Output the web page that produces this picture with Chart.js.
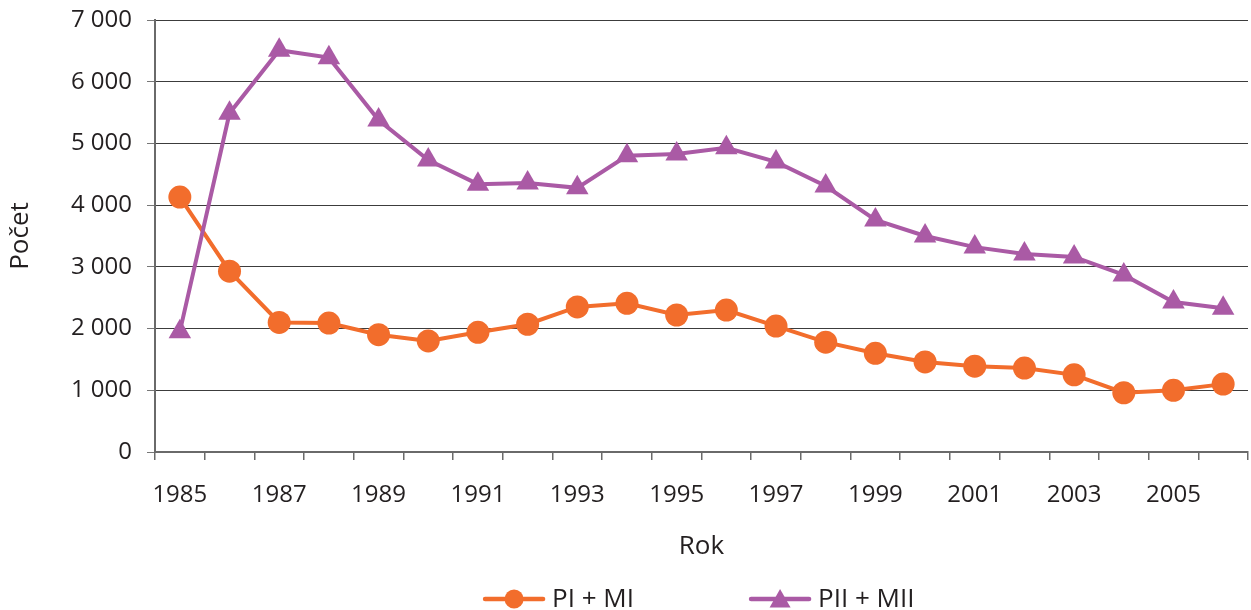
<!DOCTYPE html>
<html>
<head>
<meta charset="utf-8">
<script src="https://cdn.jsdelivr.net/npm/chart.js@4.4.0/dist/chart.umd.min.js"></script>
<style>
  html, body { margin: 0; padding: 0; overflow: hidden; background: #ffffff; width: 1251px; height: 610px; }
  #wrap { position: absolute; left: 0; top: 0; width: 1261px; height: 623px; }
</style>
</head>
<body>
<div id="wrap"><canvas id="c" width="1261" height="623"></canvas></div>
<script>
// ---- data ----
const years = ['1985','1986','1987','1988','1989','1990','1991','1992','1993','1994','1995',
               '1996','1997','1998','1999','2000','2001','2002','2003','2004','2005','2006'];
const seriesNames = ['PI + MI', 'PII + MII'];
const piMi   = [4130, 2930, 2100, 2090, 1900, 1800, 1940, 2070, 2350, 2410, 2220,
                2300, 2040, 1780, 1600, 1460, 1390, 1360, 1250, 960, 1000, 1100];
const piiMii = [1950, 5490, 6510, 6390, 5380, 4730, 4340, 4360, 4280, 4800, 4830,
                4930, 4700, 4310, 3760, 3500, 3320, 3210, 3160, 2870, 2430, 2330];
const xTickLabels = ['1985','1987','1989','1991','1993','1995','1997','1999','2001','2003','2005'];
const yTickValues = [0, 1000, 2000, 3000, 4000, 5000, 6000, 7000];
const yTickLabels = ['0', '1 000', '2 000', '3 000', '4 000', '5 000', '6 000', '7 000'];
const xTitle = 'Rok';
const yTitle = 'Počet';

// ---- style / layout constants ----
const FONT = "'Open Sans', sans-serif";
const TEXT = '#231F20';
const ORANGE = '#F26D2C';
const PURPLE = '#AA5AA5';
const LEG_FONT = 26, LEG_PAD = 10;
const TEXT0 = 552, TEXT1 = 818;      // where legend texts start
const CHART_LEFT = 155, CHART_RIGHT = 1261;

const meas = document.createElement('canvas').getContext('2d');
meas.font = LEG_FONT + 'px ' + FONT;
const tw0 = meas.measureText(seriesNames[0]).width;
const tw1 = meas.measureText(seriesNames[1]).width;
const padL = 2 * TEXT0 + tw0 + tw1 + LEG_PAD - CHART_RIGHT;
const BOX = TEXT1 - TEXT0 - tw0 - LEG_PAD - LEG_FONT / 2;

function legendSample(color, style) {
  const w = BOX + 24, h = 40;
  const cv = document.createElement('canvas');
  cv.width = w; cv.height = h;
  const g = cv.getContext('2d');
  const textStart = w / 2 + BOX / 2 + LEG_FONT / 2;
  const cy = h / 2 - 1;
  g.strokeStyle = color; g.lineWidth = 4.5; g.lineCap = 'round';
  g.beginPath(); g.moveTo(textStart - 67, cy); g.lineTo(textStart - 9, cy); g.stroke();
  const mx = textStart - 38;
  g.fillStyle = color;
  g.beginPath();
  if (style === 'circle') {
    g.arc(mx, cy, 9.5, 0, Math.PI * 2);
  } else {
    g.moveTo(mx, cy - 10); g.lineTo(mx + 10.5, cy + 8.5); g.lineTo(mx - 10.5, cy + 8.5); g.closePath();
  }
  g.fill();
  return cv;
}
const samples = [legendSample(ORANGE, 'circle'), legendSample(PURPLE, 'triangle')];

new Chart(document.getElementById('c'), {
  type: 'line',
  data: {
    labels: years,
    datasets: [
      { label: seriesNames[0], data: piMi, borderColor: ORANGE, backgroundColor: ORANGE,
        borderWidth: 4, pointStyle: 'circle', pointRadius: 11.5, pointBorderWidth: 0,
        pointBackgroundColor: ORANGE, tension: 0, order: 1 },
      { label: seriesNames[1], data: piiMii, borderColor: PURPLE, backgroundColor: PURPLE,
        borderWidth: 4, pointStyle: 'triangle', pointRadius: 13, pointBorderWidth: 0,
        pointBackgroundColor: PURPLE, tension: 0, order: 0 }
    ]
  },
  options: {
    responsive: false,
    animation: false,
    layout: { padding: { left: padL, right: 0, top: 20, bottom: 0 } },
    plugins: {
      tooltip: { enabled: false },
      legend: {
        position: 'bottom',
        align: 'center',
        labels: {
          usePointStyle: true,
          pointStyleWidth: BOX,
          padding: LEG_PAD,
          color: TEXT,
          font: { family: FONT, size: LEG_FONT },
          generateLabels: (chart) => chart.data.datasets.map((ds, i) => ({
            text: ds.label, fillStyle: ds.borderColor, strokeStyle: ds.borderColor,
            lineWidth: 0, pointStyle: samples[i], hidden: false, datasetIndex: i, fontColor: TEXT
          }))
        }
      }
    },
    scales: {
      x: {
        type: 'category',
        offset: true,
        grid: { display: true, drawOnChartArea: false, drawTicks: true, tickLength: 8,
                offset: true, color: '#6a6a6a', lineWidth: 1.5 },
        border: { display: true, color: '#6a6a6a', width: 2 },
        ticks: {
          autoSkip: false, maxRotation: 0, minRotation: 0, padding: 21, color: TEXT,
          font: { family: FONT, size: 24 },
          callback: function (v, i) { const l = years[i]; return xTickLabels.includes(l) ? l : ''; }
        },
        title: { display: true, text: xTitle, color: TEXT, font: { family: FONT, size: 26 },
                 padding: { top: 0, bottom: 14.4 } },
        afterFit: (s) => { s.height = 125; s.paddingLeft = 0; s.paddingRight = 0; }
      },
      y: {
        min: 0, max: 7000,
        grid: { color: '#3c3c3c', lineWidth: 1, tickLength: 8, tickColor: '#777777' },
        border: { display: true, color: '#6a6a6a', width: 2 },
        ticks: {
          stepSize: 1000, padding: 15, color: TEXT, font: { family: FONT, size: 24 },
          callback: (v) => { const k = yTickValues.indexOf(v); return k >= 0 ? yTickLabels[k] : ''; }
        },
        title: { display: true, text: yTitle, color: TEXT, font: { family: FONT, size: 26, lineHeight: 1 },
                 padding: { top: 20.5 - padL - 13, bottom: 0 } },
        afterFit: (s) => { s.width = CHART_LEFT - padL; s.paddingTop = 0; s.paddingBottom = 0; }
      }
    }
  }
});
</script>
</body>
</html>
